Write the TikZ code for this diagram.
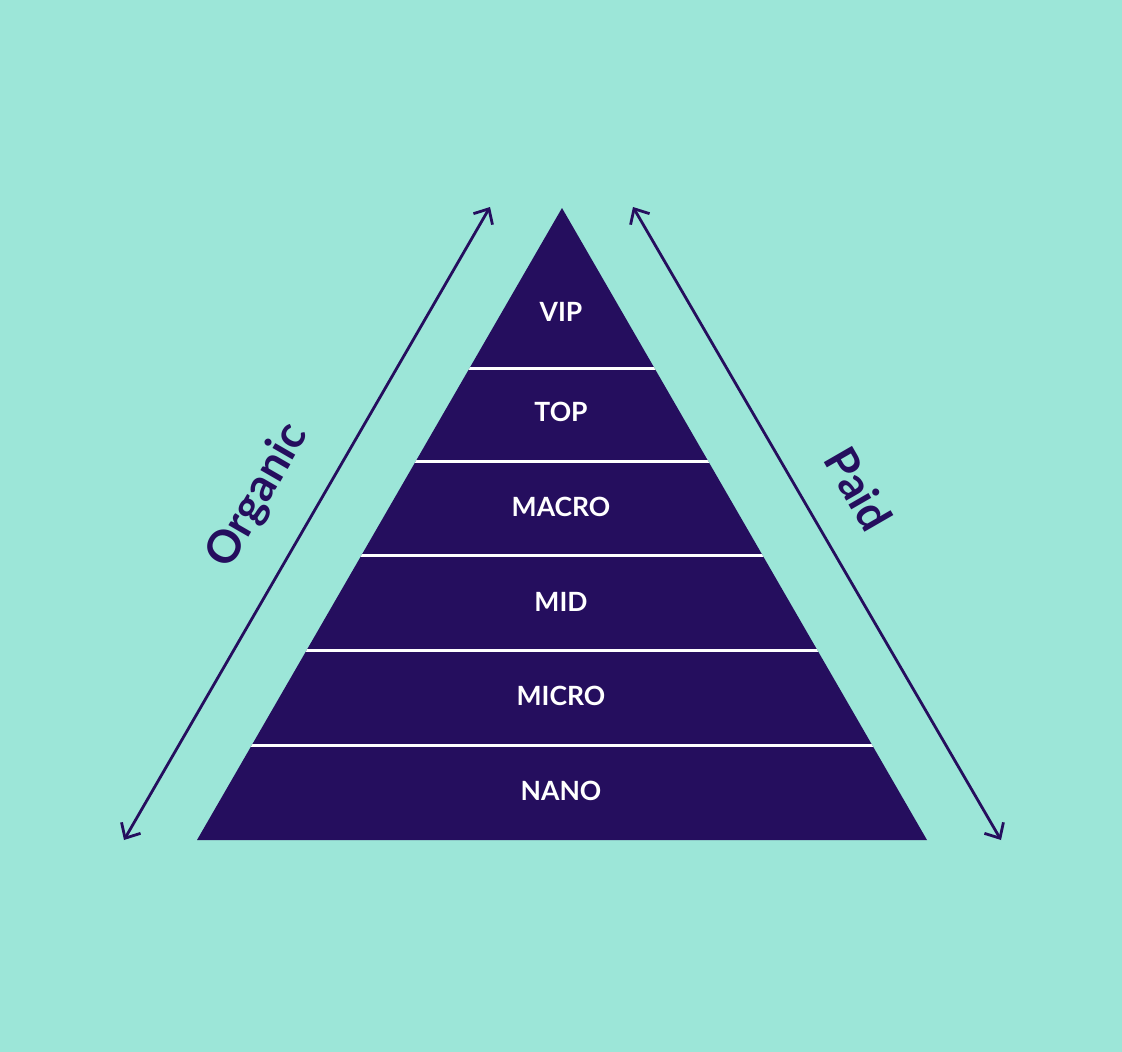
\documentclass[tikz,border=0pt]{standalone}
\usepackage{fontspec}
\setmainfont{Lato}
\usetikzlibrary{positioning,arrows.meta}
\definecolor{mint}{HTML}{9CE6D8}
\definecolor{plum}{HTML}{250E5E}
\tikzset{
  font=\bfseries
}

\begin{document}
\begin{tikzpicture}[x=1pt,y=-1pt,
  tier/.style={text=white,font=\fontsize{26.5}{26.5}\selectfont\bfseries},
  side/.style={text=plum,font=\fontsize{45}{45}\selectfont\bfseries},
  span/.style={plum,line width=2.8pt,{Straight Barb[length=12pt,width=22pt]}-{Straight Barb[length=12pt,width=22pt]}}]
\fill[mint] (0,0) rectangle (1122,1052);
\useasboundingbox (0,0) rectangle (1122,1052);
% pyramid
\coordinate (apex) at (562,208);
\coordinate (baseL) at (197,840);
\coordinate (baseR) at (927,840);
\fill[plum] (apex) -- (baseL) -- (baseR) -- cycle;
\begin{scope}
\clip (apex) -- (baseL) -- (baseR) -- cycle;
\foreach \y in {368,461,555,650,745}
  \draw[white,line width=3pt] (150,\y) -- (980,\y);
\end{scope}
% tiers
\node[tier] (vip) at (561,312) {VIP};
\node[tier] (top) at (561,412) {TOP};
\node[tier] (macro) at (561,507) {MACRO};
\node[tier] (mid) at (561,602) {MID};
\node[tier] (micro) at (561,696) {MICRO};
\node[tier] (nano) at (561,791) {NANO};
% arrows
\coordinate (orgTop) at (490,207);
\coordinate (orgBot) at (124,840);
\coordinate (paidTop) at (633,207);
\coordinate (paidBot) at (1001,840);
\draw[span] (orgBot) -- (orgTop);
\draw[span] (paidTop) -- (paidBot);
\node[side,rotate=60] (organic) at (258,496) {Organic};
\node[side,rotate=-60] (paid) at (859,489) {Paid};
\end{tikzpicture}
\end{document}
